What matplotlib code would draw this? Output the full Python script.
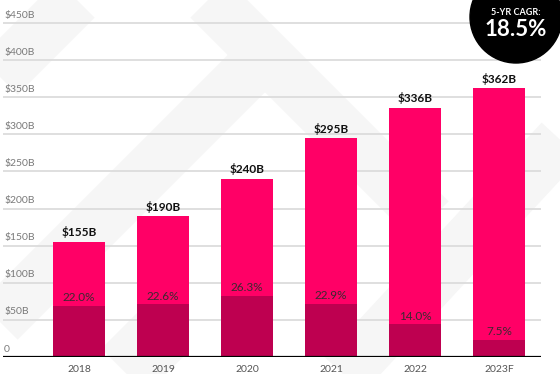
import matplotlib
matplotlib.use("Agg")
import matplotlib.pyplot as plt
from matplotlib.patches import Circle

# chart data
years = ["2018", "2019", "2020", "2021", "2022", "2023F"]
revenue = [155, 190, 240, 295, 336, 362]          # $B
growth = [22.0, 22.6, 26.3, 22.9, 14.0, 7.5]       # % growth
yticks = [0, 50, 100, 150, 200, 250, 300, 350, 400, 450]
ytick_labels = ["0", "$50B", "$100B", "$150B", "$200B", "$250B",
                "$300B", "$350B", "$400B", "$450B"]
cagr_title = "5-YR CAGR:"
cagr_value = "18.5%"

pink = "#FF0066"
dark = "#BE0050"

plt.rcParams["font.family"] = ["Lato", "DejaVu Sans"]

fig = plt.figure(figsize=(5.6, 3.74), dpi=100)

# faint watermark bands in the background (pixel coords)
bg = fig.add_axes([0, 0, 1, 1], zorder=-1)
bg.set_xlim(0, 560)
bg.set_ylim(374, 0)
bg.axis("off")
bands = [
    ((-10, 85), (100, -25)),
    ((190, -20), (430, 220)),
    ((270, 50), (-30, 350)),
    ((580, 120), (330, 390)),
    ((120, 330), (200, 410)),
]
for (x0, y0), (x1, y1) in bands:
    bg.plot([x0, x1], [y0, y1], color="#F6F6F6", lw=38, solid_capstyle="butt")

# main axes: 0 at y=357px, 0.7422 px per $1B
px_per_b = (357 - 23) / 450
ymax = 480
ax = fig.add_axes([3 / 560, 17 / 374, 538 / 560, ymax * px_per_b / 374])
ax.patch.set_alpha(0)
x = list(range(len(years)))
ax.set_xlim(-0.905, 5.5)
ax.set_ylim(0, ymax)

for t in yticks[1:]:
    ax.axhline(t, color="#DCDCDC", lw=1.3, zorder=0.5)
for t, lab in zip(yticks, ytick_labels):
    ax.annotate(lab, xy=(0.002, t), xycoords=("axes fraction", "data"),
                xytext=(0, 2.5), textcoords="offset points",
                ha="left", va="bottom", fontsize=7.5, color="#7A7A7A")

ax.bar(x, revenue, width=0.62, color=pink, zorder=2)
for i, v in enumerate(revenue):
    ax.annotate(f"${v}B", xy=(i, v), xytext=(0, 2.5), textcoords="offset points",
                ha="center", va="bottom", fontsize=8.5, fontweight="bold",
                color="#111111")

ax.set_xticks(x, years)
ax.tick_params(axis="x", length=0, pad=5.5, labelsize=7.5, labelcolor="#555555")
ax.set_yticks([])
for s in ax.spines.values():
    s.set_visible(False)

# growth bars on a twin scale
ax2 = ax.twinx()
ax2.set_ylim(0, ymax / 3.13)
ax2.bar(x, growth, width=0.625, color=dark, zorder=2)
for i, g in enumerate(growth):
    ax2.annotate(f"{g:.1f}%", xy=(i, g), xytext=(0, 2), textcoords="offset points",
                 ha="center", va="bottom", fontsize=8.5, color="#3A2A30")
ax2.axhline(0, color="black", lw=1.6, zorder=3)
ax2.set_yticks([])
for s in ax2.spines.values():
    s.set_visible(False)

# CAGR badge
fig.add_artist(Circle((5.16, 3.74 - 0.17), 0.46, transform=fig.dpi_scale_trans,
                      color="black", zorder=10))
fig.text(516 / 560, 1 - 12.7 / 374, cagr_title, ha="center", va="center",
         color="white", fontsize=6.5, fontweight="bold", zorder=11)
fig.text(516 / 560, 1 - 30 / 374, cagr_value, ha="center", va="center",
         color="white", fontsize=16, fontweight="bold", zorder=11)

fig.savefig("out.png", dpi=100)
